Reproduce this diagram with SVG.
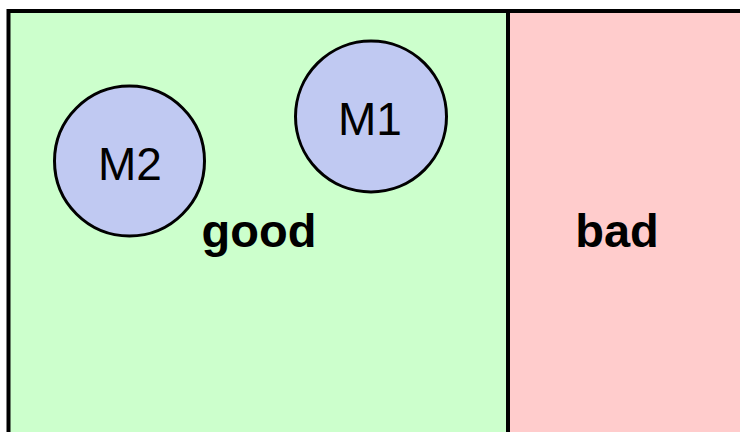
<svg xmlns="http://www.w3.org/2000/svg" width="740" height="432" viewBox="0 0 740 432">
<style>
.region{stroke:#000;stroke-width:4}
.node circle{fill:#c0c9f2;stroke:#000;stroke-width:3}
.node text{font-family:"Liberation Sans",Arial,sans-serif;font-size:46px;text-anchor:middle;fill:#000}
.lbl{font-family:"Liberation Sans",Arial,sans-serif;font-size:47px;font-weight:bold;text-anchor:middle;fill:#000}
</style>
<rect width="740" height="432" fill="#ffffff"/>
<g id="good">
<rect class="region" x="8.5" y="11" width="499.5" height="440" fill="#ccffcc"/>
<text class="lbl" x="259" y="247">good</text>
</g>
<g id="bad">
<rect class="region" x="508" y="11" width="250" height="440" fill="#ffcccc"/>
<text class="lbl" x="617" y="247">bad</text>
</g>
<g id="M2" class="node">
<circle cx="129.5" cy="161" r="75"/>
<text x="130" y="180">M2</text>
</g>
<g id="M1" class="node">
<circle cx="371" cy="116.5" r="75.5"/>
<text x="370" y="135">M1</text>
</g>
<g id="connectors"></g>
</svg>
